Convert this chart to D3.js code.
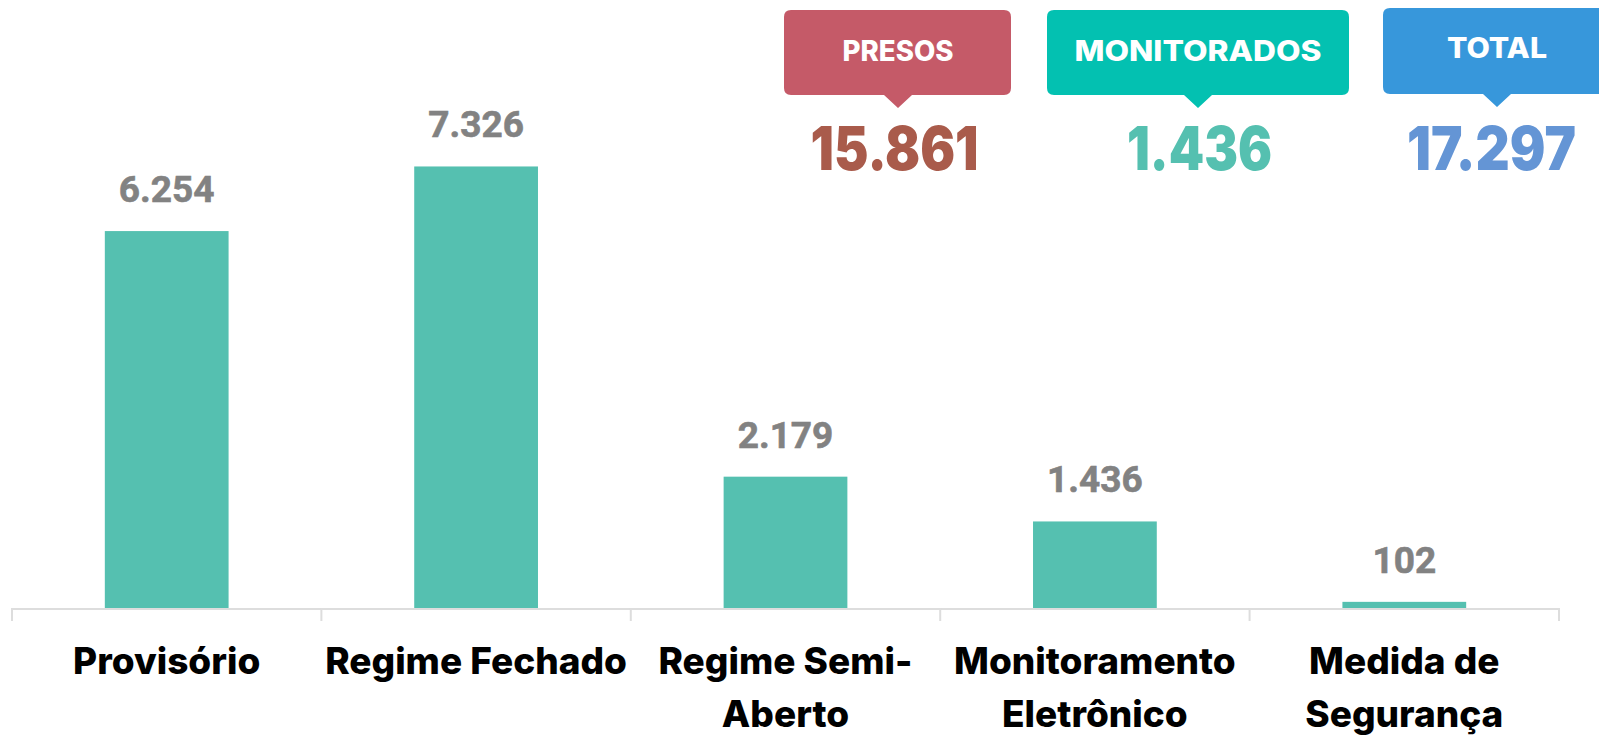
<!DOCTYPE html>
<html>
<head>
<meta charset="utf-8">
<script src="https://cdn.jsdelivr.net/npm/d3@7/dist/d3.min.js"></script>
<style>
  html, body { margin: 0; padding: 0; background: #ffffff; overflow: hidden; }
  svg { display: block; }
</style>
</head>
<body>
<svg id="chart" width="1599" height="738"></svg>
<script>
// ---- data ----
const categories = ["Provisório", "Regime Fechado", "Regime Semi-Aberto", "Monitoramento Eletrônico", "Medida de Segurança"];
const values = [6254, 7326, 2179, 1436, 102];
const summaryLabels = ["PRESOS", "MONITORADOS", "TOTAL"];
const summaryValues = [15861, 1436, 17297];

// ---- styling / layout ----
const barColor = "#55c0b0";
const boxColors = ["#c55a68", "#03c1b1", "#3797db"];
const numberColors = ["#a95b4b", "#55c0b0", "#6495d5"];
const boxLayout = [
  { x: 784, y: 10, w: 227, h: 85, tip: 898, labelW: 111, numW: 168, numCx: 894.5, labelY: 61 },
  { x: 1047, y: 10, w: 302, h: 85, tip: 1198, labelW: 247, numW: 145, numCx: 1199.5, labelY: 61 },
  { x: 1383, y: 8, w: 240, h: 86, tip: 1497, labelW: 100, numW: 169, numCx: 1491.5, labelY: 58 }
];

const fmt = d3.formatLocale({ decimal: ",", thousands: ".", grouping: [3], currency: ["R$", ""] }).format(",d");

const svg = d3.select("#chart");

const x = d3.scaleBand()
  .domain(categories)
  .range([12, 1559])
  .paddingInner(0.6)
  .paddingOuter(0.3);

const baseY = 608;
const y = d3.scaleLinear()
  .domain([0, 8000])
  .range([baseY, baseY - 8000 * 0.06027]);

// bars
svg.append("g").selectAll("rect")
  .data(values)
  .join("rect")
  .attr("x", (d, i) => x(categories[i]))
  .attr("y", d => y(d))
  .attr("width", x.bandwidth())
  .attr("height", d => baseY - y(d))
  .attr("fill", barColor);

// value labels
svg.append("g").selectAll("text")
  .data(values)
  .join("text")
  .attr("x", (d, i) => x(categories[i]) + x.bandwidth() / 2)
  .attr("y", d => y(d) - 29)
  .attr("text-anchor", "middle")
  .attr("font-family", "Roboto, 'Liberation Sans', sans-serif")
  .attr("font-weight", 700)
  .attr("font-size", 37)
  .attr("fill", "#828282")
  .attr("stroke", "#828282")
  .attr("stroke-width", 0.6)
  .text(d => fmt(d));

// axis line and ticks at band boundaries
const step = x.step();
const edges = categories.map(c => x(c) + x.bandwidth() / 2 - step / 2);
edges.push(x(categories[categories.length - 1]) + x.bandwidth() / 2 + step / 2);
const axisG = svg.append("g");
axisG.append("line")
  .attr("x1", edges[0]).attr("x2", edges[edges.length - 1])
  .attr("y1", baseY + 1).attr("y2", baseY + 1)
  .attr("stroke", "#dddddd").attr("stroke-width", 2);
axisG.selectAll("line.tick")
  .data(edges)
  .join("line")
  .attr("class", "tick")
  .attr("x1", d => d).attr("x2", d => d)
  .attr("y1", baseY).attr("y2", baseY + 13)
  .attr("stroke", "#dddddd").attr("stroke-width", 2);

// category labels (wrapped)
const labelFont = "Inter, 'Noto Sans', sans-serif";
const labelWeight = 800;
// calibrate font size so "Regime Fechado" spans ~304px
const probe = svg.append("text")
  .attr("font-family", labelFont).attr("font-weight", labelWeight).attr("font-size", 100)
  .text("Regime Fechado");
const probeW = probe.node().getComputedTextLength();
probe.remove();
const labelSize = Math.min(40, 100 * 302 / probeW);

function wrapWords(str, maxW) {
  const parts = [];
  const re = /([^ -]+-?)( ?)/g;
  let m;
  while ((m = re.exec(str)) !== null) {
    if (!m[0]) break;
    parts.push({ w: m[1], sep: m[2] });
  }
  const tmp = svg.append("text")
    .attr("font-family", labelFont).attr("font-weight", labelWeight).attr("font-size", labelSize);
  const lines = [];
  let cur = "";
  parts.forEach(p => {
    const cand = cur + p.w;
    tmp.text(cand);
    if (cur && tmp.node().getComputedTextLength() > maxW) {
      lines.push(cur.trim());
      cur = p.w + p.sep;
    } else {
      cur = cand + p.sep;
    }
  });
  if (cur.trim()) lines.push(cur.trim());
  tmp.remove();
  return lines;
}

const labelG = svg.append("g");
categories.forEach(c => {
  const lines = wrapWords(c, 312);
  const t = labelG.append("text")
    .attr("x", x(c) + x.bandwidth() / 2)
    .attr("y", 674)
    .attr("text-anchor", "middle")
    .attr("font-family", labelFont)
    .attr("font-weight", labelWeight)
    .attr("font-size", labelSize)
    .attr("fill", "#000000");
  lines.forEach((ln, i) => {
    t.append("tspan")
      .attr("x", x(c) + x.bandwidth() / 2)
      .attr("y", 674 + i * 53)
      .text(ln);
  });
});

// summary call-out boxes
const headG = svg.append("g");
summaryLabels.forEach((lab, i) => {
  const b = boxLayout[i];
  const r = 7;
  const tw = 14, th = 13;
  const p = d3.path();
  p.moveTo(b.x + r, b.y);
  p.lineTo(b.x + b.w - r, b.y);
  p.quadraticCurveTo(b.x + b.w, b.y, b.x + b.w, b.y + r);
  p.lineTo(b.x + b.w, b.y + b.h - r);
  p.quadraticCurveTo(b.x + b.w, b.y + b.h, b.x + b.w - r, b.y + b.h);
  p.lineTo(b.tip + tw, b.y + b.h);
  p.lineTo(b.tip, b.y + b.h + th);
  p.lineTo(b.tip - tw, b.y + b.h);
  p.lineTo(b.x + r, b.y + b.h);
  p.quadraticCurveTo(b.x, b.y + b.h, b.x, b.y + b.h - r);
  p.lineTo(b.x, b.y + r);
  p.quadraticCurveTo(b.x, b.y, b.x + r, b.y);
  p.closePath();
  headG.append("path").attr("d", p.toString()).attr("fill", boxColors[i]);

  headG.append("text")
    .attr("x", b.tip)
    .attr("y", b.labelY)
    .attr("text-anchor", "middle")
    .attr("font-family", labelFont)
    .attr("font-weight", 800)
    .attr("font-size", 28)
    .attr("fill", "#ffffff")
    .attr("textLength", b.labelW)
    .attr("lengthAdjust", "spacingAndGlyphs")
    .text(lab);

  headG.append("text")
    .attr("x", b.numCx)
    .attr("y", 169.5)
    .attr("text-anchor", "middle")
    .attr("font-family", labelFont)
    .attr("font-weight", 900)
    .attr("font-size", 60)
    .attr("fill", numberColors[i])
    .attr("textLength", b.numW)
    .attr("lengthAdjust", "spacingAndGlyphs")
    .text(fmt(summaryValues[i]));
});
</script>
</body>
</html>
